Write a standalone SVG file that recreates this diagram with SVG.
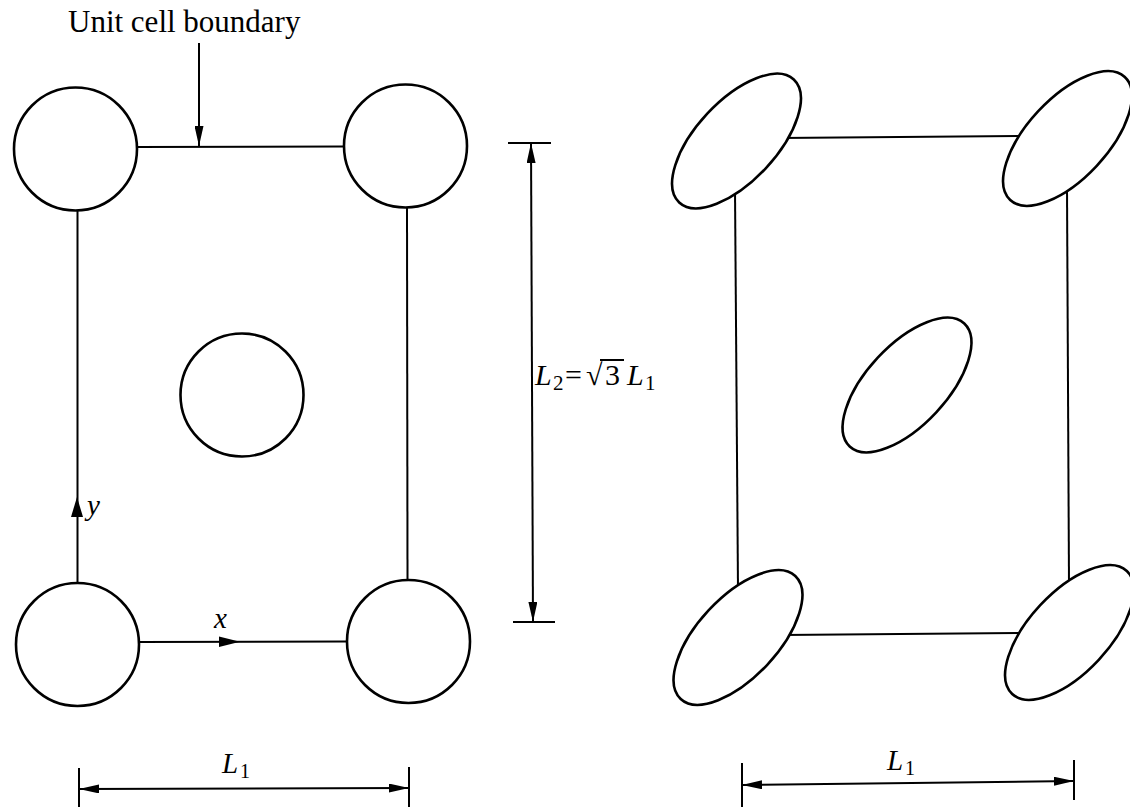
<svg xmlns="http://www.w3.org/2000/svg" width="1130" height="807" viewBox="0 0 1130 807">
<style>
.ln{stroke:#000;stroke-width:2;fill:none}
.nd{stroke:#000;stroke-width:2.6;fill:#fff}
.t{font-family:"Liberation Serif","Times New Roman",serif;fill:#000}
.it{font-style:italic}
</style>
<defs>
<marker id="ah" viewBox="0 0 20 9" markerWidth="20" markerHeight="9" refX="20" refY="4.5" orient="auto-start-reverse" markerUnits="userSpaceOnUse">
<path d="M0,0 L20,4.5 L0,9 z" fill="#000"/>
</marker>
</defs>
<rect width="1130" height="807" fill="#fff"/>
<g id="connectors">
<!-- left panel -->
<line class="ln" x1="137" y1="147" x2="343" y2="146.5"/>
<line class="ln" x1="77.5" y1="211" x2="77.5" y2="583"/>
<line class="ln" x1="407" y1="208" x2="407.5" y2="580"/>
<line class="ln" x1="140" y1="642" x2="346" y2="641.5"/>
<polygon points="77,497 71,517 83,517" fill="#000"/>
<polygon points="240,641.7 219,636.5 219,647" fill="#000"/>
<line class="ln" x1="199" y1="43" x2="199" y2="146" marker-end="url(#ah)"/>
<line class="ln" x1="508" y1="143" x2="551" y2="143"/>
<line class="ln" x1="513" y1="622" x2="555" y2="622"/>
<line class="ln" x1="531" y1="143" x2="533" y2="622" marker-start="url(#ah)" marker-end="url(#ah)"/>
<line class="ln" x1="79" y1="768" x2="79" y2="807"/>
<line class="ln" x1="409" y1="767" x2="409" y2="807"/>
<line class="ln" x1="79" y1="789" x2="409" y2="788" marker-start="url(#ah)" marker-end="url(#ah)"/>
<!-- right panel -->
<line class="ln" x1="780" y1="138" x2="1030" y2="136"/>
<line class="ln" x1="782" y1="635" x2="1030" y2="633"/>
<line class="ln" x1="735" y1="190" x2="738" y2="590"/>
<line class="ln" x1="1067" y1="188" x2="1069" y2="585"/>
<line class="ln" x1="742" y1="763" x2="742" y2="807"/>
<line class="ln" x1="1074" y1="760" x2="1074" y2="800"/>
<line class="ln" x1="742" y1="785" x2="1074" y2="781" marker-start="url(#ah)" marker-end="url(#ah)"/>
</g>
<g id="circle-tl"><circle class="nd" cx="75.5" cy="149" r="61.5"/></g>
<g id="circle-tr"><circle class="nd" cx="405.5" cy="146" r="61.5"/></g>
<g id="circle-c"><circle class="nd" cx="242" cy="395" r="61.5"/></g>
<g id="circle-bl"><circle class="nd" cx="77.5" cy="644.5" r="61.5"/></g>
<g id="circle-br"><circle class="nd" cx="408.5" cy="641.5" r="61.5"/></g>
<g id="ellipse-tl"><ellipse class="nd" cx="736.5" cy="141" rx="84" ry="40" transform="rotate(-47 736.5 141)"/></g>
<g id="ellipse-tr"><ellipse class="nd" cx="1067.5" cy="138.5" rx="84" ry="40" transform="rotate(-47 1067.5 138.5)"/></g>
<g id="ellipse-c"><ellipse class="nd" cx="907" cy="385" rx="84" ry="40" transform="rotate(-47 907 385)"/></g>
<g id="ellipse-bl"><ellipse class="nd" cx="738" cy="637.5" rx="84" ry="40" transform="rotate(-47 738 637.5)"/></g>
<g id="ellipse-br"><ellipse class="nd" cx="1069.5" cy="632.5" rx="84" ry="40" transform="rotate(-47 1069.5 632.5)"/></g>
<g id="labels">
<text class="t" x="68" y="32" font-size="31">Unit cell boundary</text>
<text class="t it" x="87" y="515" font-size="29">y</text>
<text class="t it" x="214" y="628" font-size="29">x</text>
<text class="t it" x="535" y="385" font-size="30">L</text>
<text class="t" x="553" y="390" font-size="21">2</text>
<text class="t" x="565" y="385" font-size="30">=</text>
<text class="t" x="586" y="385" font-size="30">√</text>
<line class="ln" x1="600" y1="360" x2="624" y2="360" stroke-width="1.6"/>
<text class="t" x="605" y="385" font-size="30">3</text>
<text class="t it" x="627" y="385" font-size="30">L</text>
<text class="t" x="645" y="390" font-size="21">1</text>
<text class="t it" x="222" y="773" font-size="29">L</text>
<text class="t" x="240" y="778" font-size="20">1</text>
<text class="t it" x="887" y="770" font-size="29">L</text>
<text class="t" x="905" y="775" font-size="20">1</text>
</g>
</svg>
